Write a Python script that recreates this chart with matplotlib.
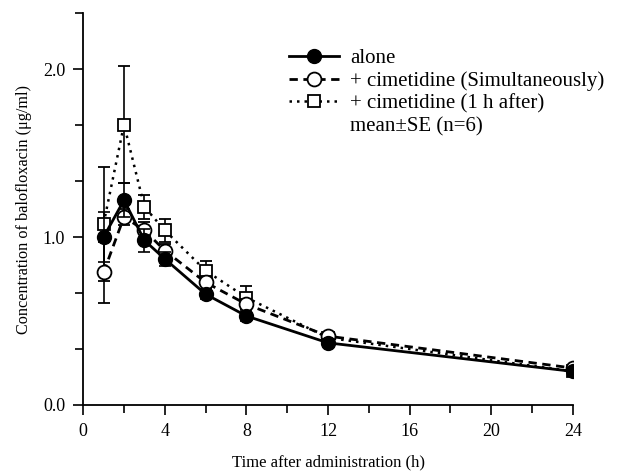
import matplotlib
matplotlib.use("Agg")
import matplotlib.pyplot as plt
from matplotlib.ticker import MultipleLocator
from matplotlib.lines import Line2D

plt.rcParams['font.family'] = ['Liberation Serif', 'DejaVu Serif']

time = [1, 2, 3, 4, 6, 8, 12, 24]
alone = [1.00, 1.22, 0.98, 0.87, 0.66, 0.53, 0.37, 0.20]
alone_se = [0.15, 0.10, 0.07, 0.04, 0.03, 0.03, 0.02, 0.02]
simul = [0.79, 1.12, 1.04, 0.92, 0.73, 0.60, 0.41, 0.22]
simul_se = [0.18, 0.05, 0.05, 0.04, 0.04, 0.03, 0.02, 0.02]
after = [1.08, 1.67, 1.18, 1.04, 0.80, 0.64, 0.40, 0.20]
after_se = [0.34, 0.35, 0.07, 0.07, 0.06, 0.07, 0.02, 0.02]
after_xerr = [0, 0.25, 0, 0, 0, 0, 0, 0]

labels = ["alone", "+ cimetidine (Simultaneously)", "+ cimetidine (1 h after)"]
note = "mean\u00b1SE (n=6)"

dash_style = (0, (3, 2))
dot_style = (0, (1, 2))

fig = plt.figure(figsize=(6.4, 4.72), dpi=100)
ax = fig.add_axes([0.130, 0.142, 0.765, 0.830])

ek = dict(ecolor='black', elinewidth=1.2, capsize=4, capthick=1.2)
ax.errorbar(time, after, yerr=after_se, xerr=after_xerr, fmt='s', color='black',
            mfc='white', mec='black', ms=8, mew=1.3, linestyle=dot_style, lw=1.8,
            zorder=3, **ek)
ax.errorbar(time, simul, yerr=simul_se, fmt='o', color='black', mfc='white',
            mec='black', ms=10, mew=1.3, linestyle=dash_style, lw=2.0,
            zorder=4, **ek)
ax.errorbar(time, alone, yerr=alone_se, fmt='o', color='black', mfc='black',
            mec='black', ms=10, linestyle='-', lw=2.0, zorder=5, **ek)

ax.set_xlim(0, 24)
ax.set_ylim(0, 7/3)
ax.xaxis.set_major_locator(MultipleLocator(4))
ax.xaxis.set_minor_locator(MultipleLocator(2))
ax.yaxis.set_minor_locator(MultipleLocator(1/3))
ax.set_yticks([0, 1, 2])
ax.set_yticklabels(["0.0", "1.0", "2.0"])
ax.spines['top'].set_visible(False)
ax.spines['right'].set_visible(False)
for s in ['left', 'bottom']:
    ax.spines[s].set_linewidth(1.3)
ax.tick_params(which='major', direction='out', length=7, width=1.2, labelsize=13, pad=6)
ax.tick_params(which='minor', direction='out', length=6, width=1.2)
ax.set_xlabel("Time after administration (h)", fontsize=12, labelpad=10)
ax.set_ylabel("Concentration of balofloxacin (\u03bcg/ml)", fontsize=11.7, labelpad=8)

handles = [
    Line2D([], [], color='black', lw=2.0, linestyle='-', marker='o', ms=10,
           mfc='black', mec='black'),
    Line2D([], [], color='black', lw=2.0, linestyle=dash_style, marker='o', ms=10,
           mfc='white', mec='black', mew=1.3),
    Line2D([], [], color='black', lw=1.8, linestyle=dot_style, marker='s', ms=8,
           mfc='white', mec='black', mew=1.3),
    Line2D([], [], linestyle='none'),
]
ax.legend(handles, labels + [note], loc='upper left', bbox_to_anchor=(0.42, 0.91),
          frameon=False, fontsize=15, numpoints=1, handlelength=2.4,
          handletextpad=0.55, labelspacing=0.15, borderaxespad=0, borderpad=0)

fig.savefig("out.png", dpi=100)
